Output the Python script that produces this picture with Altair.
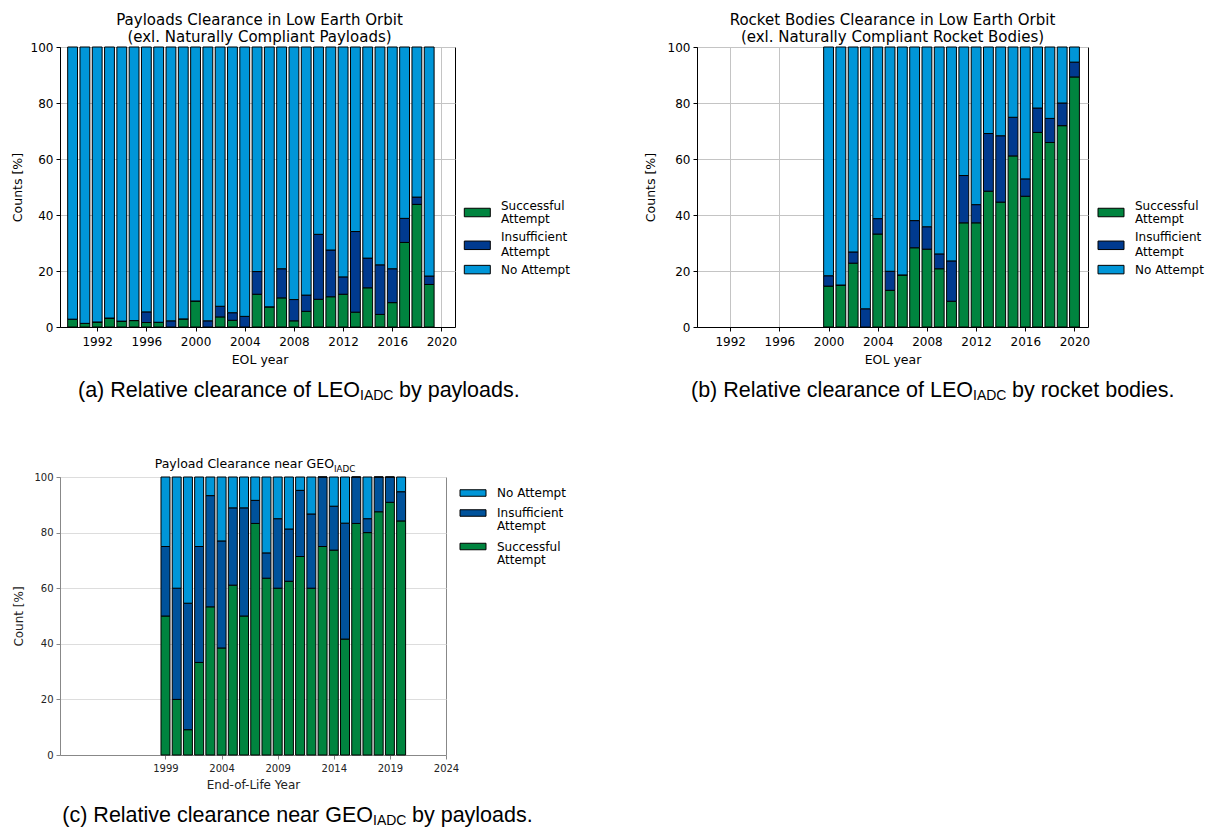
import altair as alt
import pandas as pd

# ---------------- data ----------------
cats = ["Successful Attempt", "Insufficient Attempt", "No Attempt"]

years_a = list(range(1990, 2020))
succ_a = [2.8, 1.3, 1.8, 3.2, 2.1, 2.3, 1.6, 1.7, 0.0, 2.9, 9.3, 0.0, 3.6, 2.4, 0.0,
          11.7, 7.2, 10.4, 2.2, 5.6, 9.9, 10.8, 11.7, 5.3, 14.0, 4.5, 8.7, 30.2, 43.8, 15.2]
insuf_a = [0.0, 0.0, 0.0, 0.0, 0.0, 0.0, 3.8, 0.0, 2.2, 0.0, 0.0, 2.2, 3.8, 2.7, 3.8,
           8.1, 0.0, 10.4, 7.6, 5.8, 23.2, 16.7, 6.2, 28.8, 10.6, 17.7, 12.1, 8.6, 2.6, 3.0]

years_b = list(range(2000, 2021))
succ_b = [14.6, 15.0, 22.8, 0.0, 33.2, 13.1, 18.6, 28.3, 27.8, 20.8, 9.2,
          37.2, 37.2, 48.5, 44.6, 61.1, 46.7, 69.5, 65.9, 71.9, 89.3]
insuf_b = [3.7, 0.0, 4.0, 6.5, 5.5, 6.8, 0.0, 9.7, 8.0, 5.3, 14.4,
           16.9, 6.5, 20.6, 23.7, 13.8, 6.2, 8.7, 8.6, 8.1, 5.3]

years_c = list(range(1999, 2021))
succ_c = [50.0, 20.0, 9.1, 33.3, 53.3, 38.5, 61.1, 50.0, 83.3, 63.6, 60.0,
          62.5, 71.4, 60.0, 75.0, 73.7, 41.7, 83.3, 80.0, 87.5, 90.9, 84.2]
insuf_c = [25.0, 40.0, 45.5, 41.7, 40.0, 38.5, 27.8, 38.9, 8.3, 9.1, 25.0,
           18.8, 23.8, 26.7, 25.0, 15.8, 41.7, 16.7, 5.0, 12.5, 9.1, 10.5]

ticks_ab = [1992, 1996, 2000, 2004, 2008, 2012, 2016, 2020]
ticks_c = [1999, 2004, 2009, 2014, 2019, 2024]
ticks_y = [0, 20, 40, 60, 80, 100]

title_a = ["Payloads Clearance in Low Earth Orbit", "(exl. Naturally Compliant Payloads)"]
title_b = ["Rocket Bodies Clearance in Low Earth Orbit", "(exl. Naturally Compliant Rocket Bodies)"]
title_c = ["Payload Clearance near GEO", "IADC"]
cap_a = ["(a) Relative clearance of LEO", "IADC", "by payloads."]
cap_b = ["(b) Relative clearance of LEO", "IADC", "by rocket bodies."]
cap_c = ["(c) Relative clearance near GEO", "IADC", "by payloads."]
legend_lines = {
    "Successful Attempt": ["Successful", "Attempt"],
    "Insufficient Attempt": ["Insufficient", "Attempt"],
    "No Attempt": ["No Attempt"],
}

FONT = "DejaVu Sans"
CAP_FONT = "Liberation Sans"

GREEN = "#00843F"
DARK_AB = "#003A8F"
DARK_C = "#00529B"
LIGHT = "#0096D8"


def long_table(years, succ, insuf):
    rows = []
    for y, s, i in zip(years, succ, insuf):
        rows.append({"year": y, "cat": cats[0], "pct": s, "ord": 0})
        rows.append({"year": y, "cat": cats[1], "pct": i, "ord": 1})
        rows.append({"year": y, "cat": cats[2], "pct": round(100 - s - i, 2), "ord": 2})
    return pd.DataFrame(rows)


dummy = pd.DataFrame({"a": [0]})


def txt(t, x, y, size, font=FONT, align="left", color="black"):
    return alt.Chart(dummy).mark_text(
        text=t, font=font, fontSize=size, align=align, baseline="alphabetic", color=color
    ).encode(x=alt.value(x), y=alt.value(y))


def swatch(color, x, cy, h, w=26):
    return alt.Chart(dummy).mark_rect(fill=color, stroke="black", strokeWidth=1).encode(
        x=alt.value(x), x2=alt.value(x + w), y=alt.value(cy - h / 2), y2=alt.value(cy + h / 2))


def manual_legend(colors, entries, x_sym, x_txt, fs, sym_h):
    layers = []
    for cat, cy, baselines in entries:
        layers.append(swatch(colors[cat], x_sym, cy, sym_h))
        for line, by in zip(legend_lines[cat], baselines):
            layers.append(txt(line, x_txt, by, fs))
    return layers


def bar_chart(df, xdom, xticks, colors, fs, title_fs, axis_color, label_color,
              grid_x, grid_color, xtitle, ytitle, ytitle_pad, xlabel_pad, xtitle_pad,
              xtitle_x=None):
    base = alt.Chart(df).transform_calculate(
        x0="datum.year - 0.4", x1="datum.year + 0.4"
    ).transform_stack(
        stack="pct", groupby=["year"], as_=["y0", "y1"],
        sort=[alt.SortField("ord", order="ascending")]
    )
    axis_common = dict(
        domainColor=axis_color, tickColor=axis_color, tickSize=4, tickWidth=1,
        labelFont=FONT, labelFontSize=fs, labelColor=label_color, labelFlush=False,
        labelOverlap=False, titleFont=FONT, titleFontSize=title_fs, titleFontWeight="normal",
        titleColor=label_color, gridColor=grid_color, gridWidth=1,
    )
    xaxis_kw = dict(values=xticks, format="d", title=xtitle, grid=grid_x,
                    labelPadding=xlabel_pad, titlePadding=xtitle_pad, **axis_common)
    if xtitle_x is not None:
        xaxis_kw["titleX"] = xtitle_x
    return base.mark_bar(stroke="black", strokeWidth=1).encode(
        x=alt.X("x0:Q", scale=alt.Scale(domain=xdom, nice=False, zero=False),
                axis=alt.Axis(**xaxis_kw)),
        x2="x1:Q",
        y=alt.Y("y0:Q", scale=alt.Scale(domain=[0, 100], nice=False),
                axis=alt.Axis(values=ticks_y, title=ytitle, grid=True,
                              labelPadding=3, titlePadding=ytitle_pad, **axis_common)),
        y2="y1:Q",
        color=alt.Color("cat:N",
                        scale=alt.Scale(domain=cats, range=[colors[c] for c in cats]),
                        legend=None),
    )


col_ab = {cats[0]: GREEN, cats[1]: DARK_AB, cats[2]: LIGHT}
col_c = {cats[0]: GREEN, cats[1]: DARK_C, cats[2]: LIGHT}

# panel A's view starts 4px left so that it shares its column with panel C
W_A, W_B, H_AB = 395, 391, 280
W_C, H_C = 386, 278

entries_ab = [
    (cats[0], 165.5, [162.5, 175.8]),
    (cats[1], 198.3, [194.2, 208.5]),
    (cats[2], 222.6, [226.8]),
]
entries_c = [
    (cats[2], 16.0, [20.2]),
    (cats[1], 36.0, [40.2, 53.4]),
    (cats[0], 69.5, [73.5, 86.7]),
]

# ---------- panel A ----------
bars_a = bar_chart(long_table(years_a, succ_a, insuf_a), [1988.975, 2021.1], ticks_ab,
                   col_ab, 12, 12.5, "black", "black", True, "#c4c4c4", "EOL year",
                   "Counts [%]", 6, 5, 6, xtitle_x=199.5)
panel_a = alt.layer(
    bars_a,
    *manual_legend(col_ab, entries_ab, 404.3, 441, 12, 8.5),
    txt(cap_a[0], 300, 350, 21.5, CAP_FONT, "right"),
    txt(cap_a[1], 300, 353, 14, CAP_FONT, "left"),
    txt(cap_a[2], 339, 350, 21.5, CAP_FONT, "left"),
).properties(
    width=W_A, height=H_AB,
    title=alt.TitleParams(text=title_a, font=FONT, fontSize=15, fontWeight="normal",
                          color="black", anchor="middle", offset=-4, lineHeight=17, dx=2),
    view=alt.ViewBackground(stroke="black", strokeWidth=1),
)

# ---------- panel B ----------
bars_b = bar_chart(long_table(years_b, succ_b, insuf_b), [1989.3, 2021.1], ticks_ab,
                   col_ab, 12, 12.5, "black", "black", True, "#c4c4c4", "EOL year",
                   "Counts [%]", 10, 5, 6)
panel_b = alt.layer(
    bars_b,
    *manual_legend(col_ab, entries_ab, 401, 438, 12, 8.5),
    txt(cap_b[0], 276, 350, 21.5, CAP_FONT, "right"),
    txt(cap_b[1], 276, 353, 14, CAP_FONT, "left"),
    txt(cap_b[2], 315, 350, 21.5, CAP_FONT, "left"),
).properties(
    width=W_B, height=H_AB,
    title=alt.TitleParams(text=title_b, font=FONT, fontSize=15, fontWeight="normal",
                          color="black", anchor="middle", offset=-4, lineHeight=17),
    view=alt.ViewBackground(stroke="black", strokeWidth=1),
)

# ---------- panel C ----------
bars_c = bar_chart(long_table(years_c, succ_c, insuf_c), [1989.6, 2024.0], ticks_c,
                   col_c, 10, 12, "#888888", "#222222", False, "#dddddd", "End-of-Life Year",
                   "Count [%]", 8, 4, 6)
panel_c = alt.layer(
    bars_c,
    *manual_legend(col_c, entries_c, 400, 437, 12, 6.5),
    txt(title_c[0], 274, -9, 12.5, FONT, "right"),
    txt(title_c[1], 274, -5.5, 8.75, FONT, "left"),
    txt(cap_c[0], 313, 345, 21.5, CAP_FONT, "right"),
    txt(cap_c[1], 313, 348, 14, CAP_FONT, "left"),
    txt(cap_c[2], 352, 345, 21.5, CAP_FONT, "left"),
).properties(
    width=W_C, height=H_C,
    view=alt.ViewBackground(stroke="#888888", strokeWidth=1),
)

chart = alt.concat(
    panel_a, panel_b, panel_c, columns=2,
    spacing=alt.RowColnumber(row=150, column=242), bounds="flush",
).resolve_scale(color="independent").properties(
    padding={"left": 2, "top": 4, "right": 0, "bottom": 0}
).configure_view(strokeWidth=0)

chart.save("out.html", embed_options={"renderer": "svg", "actions": False})
